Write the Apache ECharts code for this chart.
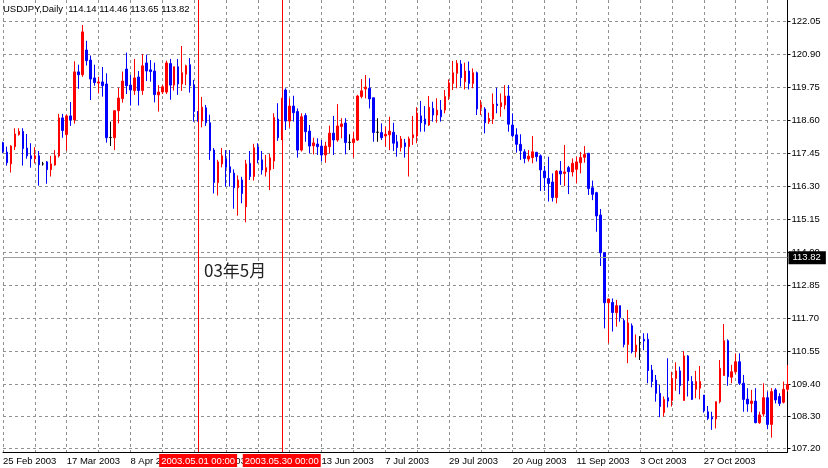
<!DOCTYPE html>
<html><head><meta charset="utf-8">
<script src="https://cdn.jsdelivr.net/npm/echarts@6/dist/echarts.min.js"></script>
<style>html,body{margin:0;padding:0;background:#fff}#c{width:828px;height:468px}</style>
</head><body><div id="c"></div>
<script>
const symbolName = 'USDJPY,Daily';
const lastQuote = ['114.14', '114.46', '113.65', '113.82'];
const firstDate = '2003-02-21';
const opens = [117.82,117.49,117.08,117.68,118.10,118.21,117.63,117.36,117.26,117.36,117.08,117.15,116.88,117.04,117.36,118.68,118.10,118.75,118.61,120.28,
120.18,121.04,120.69,120.07,119.89,119.93,119.86,118.00,117.99,118.93,119.35,120.38,119.82,119.63,120.10,119.63,120.59,120.35,120.31,119.48,
119.58,119.58,120.57,119.82,120.46,119.86,120.20,120.53,119.82,118.89,118.57,119.03,118.51,117.56,116.43,117.08,117.26,116.98,116.76,116.25,
116.52,115.59,117.10,116.64,117.67,117.22,116.80,116.87,117.18,118.64,118.03,119.65,118.57,119.09,118.90,117.56,118.76,118.22,117.71,117.77,
117.70,117.39,117.68,118.15,117.91,118.38,118.50,117.83,117.82,117.91,119.42,119.69,119.71,119.38,118.18,118.17,118.05,118.09,118.18,117.85,
117.65,117.81,117.68,117.99,118.05,118.75,118.64,118.43,119.01,118.78,118.95,118.95,119.42,119.88,120.23,120.55,119.94,120.31,119.88,120.25,
119.04,118.99,118.55,118.64,119.16,119.07,119.13,119.44,118.43,118.09,117.76,117.50,117.25,117.30,117.48,117.36,116.83,116.57,116.45,115.91,
116.83,116.75,116.95,116.80,116.89,117.12,117.31,117.45,116.25,116.08,115.30,113.99,112.25,112.26,111.91,112.15,111.63,110.80,111.45,110.55,
110.87,110.98,110.98,109.91,109.56,109.10,108.43,108.95,108.85,109.62,109.88,108.85,110.40,109.51,109.24,109.28,109.04,108.46,108.27,108.21,
108.81,109.72,110.93,109.66,109.85,110.20,109.45,108.90,108.75,108.83,108.08,108.38,108.95,108.02,109.22,108.99,108.79,109.24];
const highs = [117.85,117.68,117.73,118.32,118.32,118.32,118.12,117.80,117.66,117.53,117.15,117.18,117.36,117.56,118.82,118.82,118.80,119.23,120.65,120.53,
121.91,121.36,120.85,120.53,120.11,120.45,120.23,118.55,118.93,119.73,120.29,120.95,120.17,120.73,120.31,120.90,120.88,120.69,120.60,119.82,
119.82,120.67,120.73,120.46,120.73,121.18,120.53,120.76,120.00,118.92,119.41,119.13,118.79,117.63,117.22,117.63,117.56,117.56,116.89,116.68,
116.63,117.22,117.53,117.78,117.80,117.53,117.39,117.43,118.84,119.19,119.38,119.71,119.36,119.45,119.01,118.84,118.84,118.43,117.99,117.97,
117.91,117.85,118.41,118.75,119.16,118.67,118.67,118.11,118.20,119.48,120.03,120.17,120.06,119.38,118.67,118.49,118.38,118.72,118.51,118.09,
118.05,117.95,118.03,118.75,119.05,119.27,119.09,119.44,119.24,119.36,119.30,119.65,120.02,120.66,120.69,120.69,120.60,120.64,120.40,120.29,
119.30,119.05,118.86,119.53,119.73,119.53,119.82,119.82,118.84,118.32,118.11,117.59,117.56,118.05,117.50,117.41,117.01,117.33,116.75,116.87,
117.18,117.74,117.01,117.27,117.33,117.50,117.70,117.45,116.50,116.11,115.51,113.99,112.40,112.40,112.35,112.15,111.70,112.00,111.53,111.15,
111.09,111.19,111.19,110.09,109.74,109.39,108.99,110.32,109.85,110.18,110.03,110.57,110.43,109.70,109.88,110.05,109.04,108.66,108.46,108.81,
110.26,111.51,110.98,110.09,110.49,110.49,109.74,109.28,109.22,109.28,108.46,109.45,109.16,109.28,109.28,109.10,109.51,110.09];
const lows = [117.45,117.02,116.78,117.56,118.06,117.02,117.26,116.95,117.10,116.32,117.02,116.39,116.64,117.02,117.30,117.99,117.53,118.40,118.48,119.69,
120.11,120.50,119.30,119.80,119.53,119.42,117.82,117.70,117.56,118.49,119.21,119.51,119.11,119.48,119.11,119.48,119.96,119.94,119.22,118.90,
119.51,119.51,119.31,119.63,119.48,119.62,119.82,119.56,118.55,118.55,118.35,118.40,117.22,116.05,115.98,116.96,116.29,116.29,115.52,115.28,
115.71,115.05,116.52,116.50,117.10,116.71,116.64,116.17,116.90,117.88,117.91,118.26,118.34,118.55,117.30,117.51,117.85,117.45,117.41,117.39,
117.16,117.12,117.45,117.39,117.85,117.97,117.41,117.56,117.30,117.88,119.36,119.36,119.01,117.85,117.85,117.91,117.68,117.56,117.53,117.33,
117.51,117.30,116.64,117.74,117.80,118.20,118.20,118.40,118.55,118.51,118.55,118.84,119.30,119.65,119.71,119.77,119.67,119.67,119.71,118.78,
118.78,118.14,118.47,118.47,118.84,118.72,118.98,118.20,118.00,117.47,117.22,117.10,117.16,117.10,117.16,116.14,116.14,115.77,115.77,115.71,
116.35,116.31,116.03,116.64,116.40,116.75,117.12,116.00,115.82,114.72,113.53,111.36,110.84,111.25,111.42,111.59,110.70,110.15,110.49,110.35,
110.26,110.60,109.45,109.31,108.81,108.27,108.29,108.61,108.64,109.19,109.07,108.85,108.99,108.87,108.93,108.89,108.43,108.17,107.83,107.88,
108.75,109.72,109.36,109.45,109.77,109.39,108.46,108.46,108.44,108.06,108.04,108.29,107.85,107.56,108.75,108.66,108.75,109.16];
const closes = [117.51,117.12,117.70,118.12,118.21,117.61,117.36,117.26,117.36,117.05,117.08,116.88,117.08,117.36,118.68,118.24,118.75,118.61,120.28,120.18,
121.67,120.67,120.03,119.91,119.93,119.80,117.99,118.00,118.93,119.37,119.96,119.80,119.65,120.07,119.63,120.49,120.31,120.29,119.49,119.58,
119.76,120.59,119.82,120.46,119.86,120.25,120.49,119.80,118.90,118.57,119.05,118.51,117.54,116.43,117.15,117.36,116.96,116.78,116.25,116.52,
116.05,117.08,116.64,117.64,117.22,116.87,116.95,117.29,118.69,117.99,119.34,118.57,119.09,118.86,117.56,118.72,118.20,117.70,117.81,117.68,
117.39,117.70,118.15,117.91,118.40,118.47,117.82,117.83,117.95,119.44,119.62,119.75,119.34,118.17,118.18,117.99,118.11,118.22,117.80,117.65,
117.95,117.68,117.95,118.09,118.85,118.51,118.46,119.05,118.78,118.95,118.72,119.42,119.90,120.25,120.58,120.08,120.31,119.88,120.25,118.99,
119.13,118.51,118.66,119.16,119.11,119.21,119.44,118.46,118.06,117.76,117.54,117.27,117.35,117.50,117.33,116.87,116.60,116.40,115.91,116.83,
116.73,116.80,116.81,117.10,117.15,117.30,117.41,116.22,116.02,115.27,113.99,112.25,112.38,111.91,112.15,111.73,110.80,111.55,110.55,110.78,
110.87,110.92,109.89,109.51,109.10,108.64,108.89,108.83,109.62,109.88,109.37,110.40,109.54,108.89,109.51,109.51,108.49,108.23,108.21,108.81,
109.97,110.93,109.68,109.85,110.20,109.45,108.89,108.73,108.83,108.08,108.35,108.95,108.02,109.16,108.87,108.75,109.24,109.41];
const xTickLabels = ['25 Feb 2003','17 Mar 2003','8 Apr 2003','30 Apr 2003','22 May 2003','13 Jun 2003','7 Jul 2003',
  '29 Jul 2003','20 Aug 2003','11 Sep 2003','3 Oct 2003','27 Oct 2003','18 Nov 2003'];
const yTickValues = [107.20,108.30,109.40,110.55,111.70,112.85,114.00,115.15,116.30,117.45,118.60,119.75,120.90,122.05];
const bidPrice = 113.82;
const vLines = [{date:'2003.05.01', label:'2003.05.01 00:00'}, {date:'2003.05.30', label:'2003.05.30 00:00'}];
const noteText = '03年5月';

function tradingDays(start, n) {
  const out = []; const d = new Date(start + 'T00:00:00Z');
  while (out.length < n) {
    const w = d.getUTCDay();
    if (w !== 0 && w !== 6) out.push(d.getUTCFullYear() + '.' + String(d.getUTCMonth()+1).padStart(2,'0') + '.' + String(d.getUTCDate()).padStart(2,'0'));
    d.setUTCDate(d.getUTCDate() + 1);
  }
  return out;
}
const dates = tradingDays(firstDate, opens.length);
const ohlc = opens.map((o, i) => [o, closes[i], lows[i], highs[i]]);

const FONT = '"Liberation Sans", Arial, sans-serif';
const GRID_COLOR = '#909090';
const chart = echarts.init(document.getElementById('c'), null, {renderer: 'canvas'});
chart.setOption({
  animation: false,
  backgroundColor: '#ffffff',
  grid: {left: -0.5, top: 0, width: 788, height: 452, containLabel: false},
  xAxis: {
    type: 'category', data: dates, boundaryGap: false,
    axisLine: {show: true, lineStyle: {color: '#000', width: 1}},
    axisTick: {show: false},
    axisLabel: {interval: 15, align: 'left', margin: 4, color: '#000', fontSize: 9.5, fontFamily: FONT,
      showMaxLabel: false, formatter: (v, i) => xTickLabels[i / 16] || ''},
    splitLine: {show: true, interval: 7, lineStyle: {color: GRID_COLOR, type: [3, 3], width: 1}}
  },
  yAxis: {
    type: 'value', position: 'right', min: 107.060, max: 122.780, scale: true,
    axisLine: {show: true, lineStyle: {color: '#000', width: 1}},
    axisTick: {show: true, customValues: yTickValues, length: 3, lineStyle: {color: '#000'}},
    axisLabel: {customValues: yTickValues, formatter: v => v.toFixed(2), color: '#000', fontSize: 9.5, fontFamily: FONT, margin: 4},
    splitLine: {show: true, lineStyle: {color: GRID_COLOR, type: [3, 3], width: 1}}
  },
  series: [{
    type: 'candlestick', data: ohlc, barWidth: 2, clip: false, silent: true,
    itemStyle: {color: '#ff0000', color0: '#0000ff', borderColor: '#ff0000', borderColor0: '#0000ff', borderColorDoji: '#000000', borderWidth: 1},
    markLine: {
      symbol: ['none', 'none'], silent: true, animation: false,
      lineStyle: {color: '#ff0000', type: 'solid', width: 1},
      data: [
        {yAxis: bidPrice, lineStyle: {color: '#a0a0a0', type: 'solid', width: 1},
          label: {show: true, position: 'end', distance: 1, formatter: bidPrice.toFixed(2), color: '#fff', backgroundColor: '#000',
            padding: [2, 5, 1, 4], fontSize: 9.5, fontFamily: FONT}},
        ...vLines.map(v => ({xAxis: v.date, lineStyle: {color: '#ff0000', type: 'solid', width: 1},
          label: {show: true, position: 'start', distance: 2, formatter: v.label, color: '#fff', backgroundColor: '#ff0000',
            padding: [2, 2, 1, 2], fontSize: 9.5, fontFamily: FONT}}))
      ]
    }
  }],
  graphic: [
    {type: 'text', left: 3, top: 4, z: 100, style: {text: symbolName + '  ' + lastQuote.join(' '), font: '9.5px ' + FONT, fill: '#000'}},
    {type: 'text', left: 204, top: 262, z: 100, style: {text: noteText, font: '17px "Noto Sans CJK JP", sans-serif', fill: '#222'}}
  ]
});
</script>
</body></html>
